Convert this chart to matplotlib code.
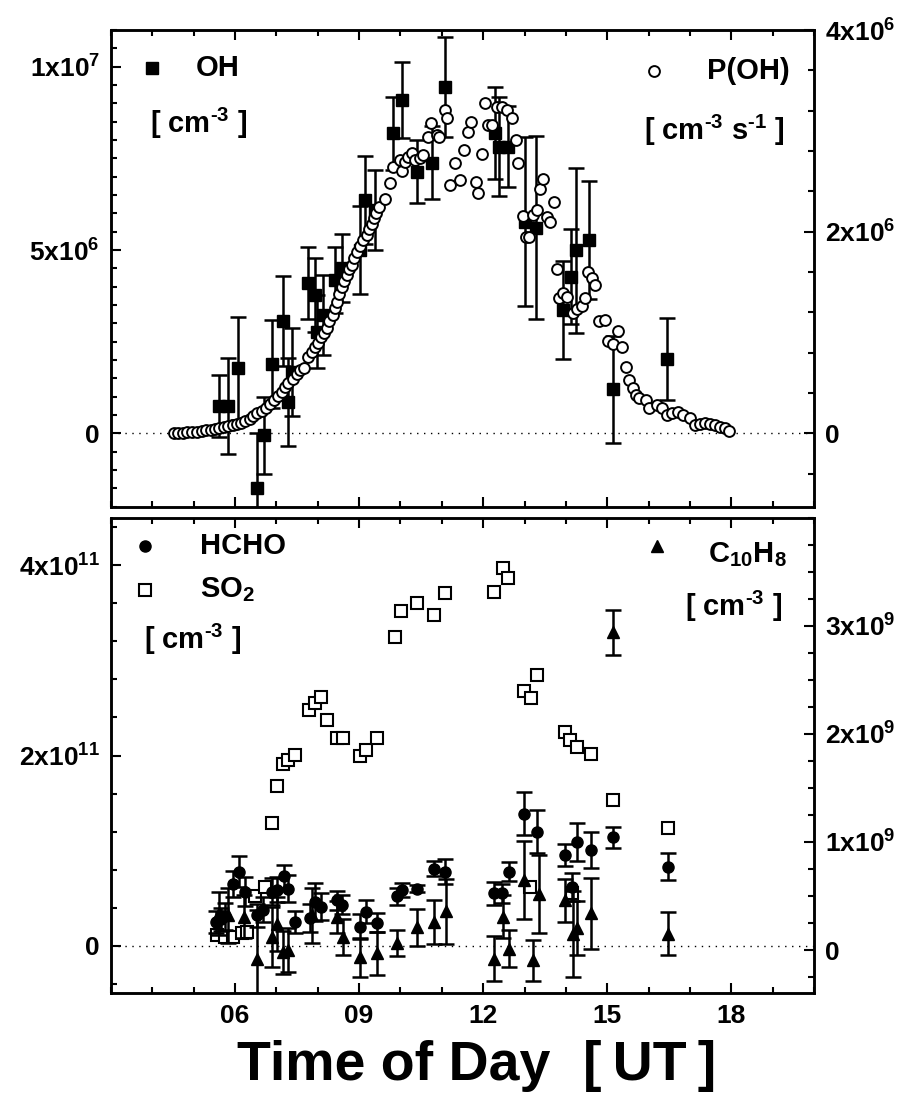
import matplotlib
matplotlib.use("Agg")
import matplotlib.pyplot as plt
from matplotlib.ticker import FixedLocator, MultipleLocator, FixedFormatter

plt.rcParams["font.family"] = ["Liberation Sans", "DejaVu Sans"]
plt.rcParams["font.weight"] = "bold"
plt.rcParams["mathtext.fontset"] = "custom"
plt.rcParams["mathtext.rm"] = "Liberation Sans:bold"
plt.rcParams["mathtext.it"] = "Liberation Sans:bold"
plt.rcParams["mathtext.bf"] = "Liberation Sans:bold"

# ---- top panel: OH (left, cm-3) and P(OH) (right, cm-3 s-1) ----
oh_t = [5.60, 5.84, 6.08, 6.54, 6.70, 6.89, 7.15, 7.29, 7.37, 7.77, 7.93, 7.99,
        8.12, 8.42, 8.58, 9.01, 9.14, 9.38, 9.83, 10.03, 10.39, 10.77, 11.08,
        12.29, 12.39, 12.61, 13.01, 13.28, 13.94, 14.12, 14.25, 14.57, 15.15, 16.44]
oh_val = [0.745, 0.745, 1.77, -1.5, -0.05, 1.89, 3.07, 0.86, 1.68, 4.11, 3.77, 2.77,
          3.23, 4.18, 4.5, 5.0, 6.36, 6.09, 8.18, 9.09, 7.14, 7.38, 9.45,
          8.2, 7.82, 7.82, 5.77, 5.61, 3.36, 4.27, 5.0, 5.27, 1.2, 2.02]  # 1e6 cm-3
oh_err = [0.85, 1.3, 1.4, 1.5, 1.05, 1.2, 1.22, 1.2, 1.2, 0.98, 1.0, 1.0,
          1.1, 0.9, 0.93, 1.2, 1.2, 1.1, 1.0, 1.03, 0.85, 1.0, 1.37,
          1.25, 1.35, 1.1, 2.3, 2.5, 1.34, 1.3, 2.25, 1.6, 1.45, 1.12]

poh_t = [4.52, 4.63, 4.73, 4.85, 4.95, 5.07, 5.19, 5.30, 5.41, 5.52, 5.62, 5.73,
         5.84, 5.94, 6.04, 6.14, 6.24, 6.35, 6.44, 6.54, 6.64, 6.74, 6.85, 6.94,
         7.05, 7.13, 7.21, 7.29, 7.39, 7.49, 7.57, 7.67, 7.77, 7.85, 7.93, 8.01,
         8.09, 8.15, 8.22, 8.28, 8.36, 8.42, 8.46, 8.52, 8.58, 8.64, 8.70, 8.76,
         8.84, 8.88, 8.96, 9.02, 9.10, 9.18, 9.25, 9.30, 9.37, 9.42, 9.49, 9.63,
         9.75, 9.83, 9.99, 10.03, 10.11, 10.19, 10.27, 10.35, 10.47, 10.55, 10.67,
         10.74, 10.89, 10.94, 11.08, 11.13, 11.20, 11.32, 11.44, 11.545, 11.625,
         11.71, 11.83, 11.88, 11.96, 12.04, 12.125, 12.21, 12.33, 12.45, 12.57,
         12.69, 12.79, 12.85, 12.96, 13.04, 13.12, 13.21, 13.29, 13.375, 13.455,
         13.54, 13.62, 13.71, 13.78, 13.84, 13.94, 14.02, 14.18, 14.26, 14.38,
         14.46, 14.54, 14.62, 14.70, 14.79, 14.95, 15.03, 15.15, 15.27, 15.35,
         15.455, 15.535, 15.615, 15.70, 15.78, 15.94, 16.02, 16.20, 16.32, 16.44,
         16.56, 16.72, 16.84, 17.00, 17.12, 17.245, 17.365, 17.49, 17.61, 17.73,
         17.85, 17.95]
poh_val = [0.007, 0.007, 0.007, 0.01, 0.013, 0.017, 0.023, 0.03, 0.036, 0.043, 0.05,
           0.06, 0.069, 0.079, 0.089, 0.102, 0.122, 0.146, 0.172, 0.198, 0.225,
           0.251, 0.291, 0.331, 0.370, 0.413, 0.456, 0.496, 0.536, 0.589, 0.628,
           0.648, 0.754, 0.810, 0.860, 0.899, 0.952, 0.999, 1.042, 1.118, 1.174,
           1.240, 1.306, 1.382, 1.455, 1.515, 1.571, 1.627, 1.670, 1.736, 1.802,
           1.858, 1.918, 1.968, 2.024, 2.077, 2.133, 2.189, 2.242, 2.321, 2.487,
           2.646, 2.712, 2.606, 2.696, 2.745, 2.778, 2.712, 2.728, 2.761, 2.943,
           3.075, 2.960, 2.944, 3.208, 3.125, 2.464, 2.679, 2.513, 2.808, 2.993,
           3.091, 2.497, 2.381, 2.771, 3.280, 3.059, 3.059, 3.241, 3.241, 3.208,
           3.125, 2.910, 2.685, 2.156, 1.944, 1.951, 2.163, 2.216, 2.421, 2.520,
           2.150, 2.100, 2.298, 1.627, 1.339, 1.389, 1.356, 1.190, 1.230, 1.263,
           1.339, 1.604, 1.538, 1.471, 1.118, 1.124, 0.919, 0.886, 1.019, 0.860,
           0.655, 0.529, 0.446, 0.380, 0.347, 0.331, 0.248, 0.281, 0.248, 0.182,
           0.198, 0.215, 0.182, 0.149, 0.083, 0.093, 0.099, 0.093, 0.083, 0.066,
           0.050, 0.026]  # 1e6 cm-3 s-1

# ---- bottom panel: HCHO, SO2 (left, cm-3) and C10H8 (right, cm-3) ----
hcho_t = [5.55, 5.65, 5.76, 5.96, 6.10, 6.24, 6.52, 6.68, 6.89, 7.02, 7.18, 7.29,
          7.45, 7.81, 7.93, 8.09, 8.46, 8.58, 9.02, 9.16, 9.43, 9.91, 10.03, 10.39,
          10.80, 11.08, 12.25, 12.45, 12.63, 12.99, 13.31, 13.98, 14.14, 14.26,
          14.60, 15.15, 16.48]
hcho_val = [0.25, 0.28, 0.31, 0.65, 0.78, 0.57, 0.32, 0.38, 0.57, 0.59, 0.73, 0.60,
            0.25, 0.29, 0.46, 0.41, 0.48, 0.43, 0.20, 0.36, 0.24, 0.52, 0.585, 0.60,
            0.81, 0.78, 0.55, 0.55, 0.78, 1.39, 1.20, 0.955, 0.62, 1.095,
            1.01, 1.14, 0.83]  # 1e11 cm-3
hcho_err = [0.12, 0.12, 0.14, 0.14, 0.16, 0.15, 0.12, 0.13, 0.14, 0.13, 0.12, 0.14,
            0.12, 0.15, 0.2, 0.14, 0.1, 0.1, 0.13, 0.12, 0.1, 0.09, 0.07, 0.04,
            0.08, 0.13, 0.12, 0.1, 0.1, 0.23, 0.23, 0.12, 0.15, 0.2,
            0.19, 0.11, 0.14]

so2_t = [5.56, 5.76, 5.96, 6.16, 6.28, 6.48, 6.72, 6.89, 7.02, 7.15, 7.29, 7.45,
         7.80, 7.93, 8.07, 8.22, 8.46, 8.60, 9.02, 9.16, 9.43, 9.87, 10.01, 10.41,
         10.80, 11.08, 12.25, 12.49, 12.61, 12.99, 13.13, 13.16, 13.31, 13.98,
         14.10, 14.14, 14.26, 14.60, 15.15, 16.48]
so2_val = [0.11, 0.095, 0.095, 0.13, 0.147, 0.52, 0.62, 1.295, 1.684, 1.912, 1.954,
           2.007, 2.48, 2.55, 2.62, 2.37, 2.18, 2.18, 2.0, 2.06, 2.18, 3.25, 3.52,
           3.60, 3.48, 3.71, 3.72, 3.97, 3.87, 2.68, 0.62, 2.60, 2.85, 2.25,
           2.16, 0.55, 2.09, 2.02, 1.53, 1.235]  # 1e11 cm-3

c10_t = [5.60, 5.84, 6.21, 6.52, 6.89, 7.02, 7.15, 7.29, 7.85, 8.46, 8.62, 9.02,
         9.43, 9.91, 10.41, 10.80, 11.09, 12.25, 12.49, 12.63, 12.99, 13.21, 13.36,
         13.98, 14.16, 14.28, 14.60, 15.15, 16.48]
c10_val = [0.34, 0.32, 0.31, -0.08, 0.12, 0.245, -0.02, 0.0, 0.32, 0.306, 0.12,
           -0.065, -0.03, 0.066, 0.21, 0.26, 0.36, -0.08, 0.31, 0.014, 0.65, -0.094,
           0.52, 0.46, 0.15, 0.2, 0.34, 2.94, 0.15]  # 1e9 cm-3
c10_err = [0.2, 0.25, 0.2, 0.45, 0.28, 0.25, 0.2, 0.2, 0.25, 0.15, 0.17, 0.18,
           0.2, 0.12, 0.17, 0.2, 0.3, 0.21, 0.2, 0.17, 0.36, 0.19, 0.36,
           0.2, 0.4, 0.25, 0.33, 0.21, 0.2]

hour_ticks = [6, 9, 12, 15, 18]
hour_labels = ["06", "09", "12", "15", "18"]

fig = plt.figure(figsize=(9.09, 11.09), dpi=100)
ax1 = fig.add_axes([0.1221, 0.5431, 0.7734, 0.4298])
ax2 = fig.add_axes([0.1221, 0.1043, 0.7734, 0.4289])

tick_fs = 19
leg_fs = 21
err_kw = dict(ecolor="black", elinewidth=1.8, capsize=5.5, capthick=1.8)
cm3 = r"[ cm$^{\text{-3}}$ ]"


def style(ax, right=False):
    for s in ax.spines.values():
        s.set_linewidth(1.8)
    ax.tick_params(which="both", direction="in", width=1.5, labelsize=tick_fs)
    ax.tick_params(which="major", length=7)
    ax.tick_params(which="minor", length=4)
    if right:
        ax.tick_params(which="both", left=False, right=True, labelleft=False,
                       labelright=True, top=False, bottom=False, pad=8)
    else:
        ax.tick_params(which="both", top=True, bottom=True, right=False, pad=8)


for ax in (ax1, ax2):
    ax.set_xlim(3, 20)
    ax.xaxis.set_major_locator(FixedLocator(hour_ticks))
    ax.xaxis.set_minor_locator(MultipleLocator(1))
    ax.axhline(0, color="black", linestyle=(0, (1, 4)), linewidth=1.0, zorder=0)
    style(ax)

ax1.set_xticklabels([])
ax2.xaxis.set_major_formatter(FixedFormatter(hour_labels))

# top panel
ax1.set_ylim(-2e6, 1.1e7)
ax1.yaxis.set_major_locator(FixedLocator([0, 5e6, 1e7]))
ax1.yaxis.set_major_formatter(FixedFormatter(["0", r"$5x10^{6}$", r"$1x10^{7}$"]))
ax1.yaxis.set_minor_locator(MultipleLocator(5e5))
ax1.errorbar(oh_t, [v * 1e6 for v in oh_val], yerr=[e * 1e6 for e in oh_err],
             fmt="s", color="black", markersize=9, **err_kw)

ax1r = ax1.twinx()
ax1r.set_ylim(-2e6 / 1.1e7 * 4e6, 4e6)
ax1r.yaxis.set_major_locator(FixedLocator([0, 2e6, 4e6]))
ax1r.yaxis.set_major_formatter(FixedFormatter(["0", r"$2x10^{6}$", r"$4x10^{6}$"]))
ax1r.yaxis.set_minor_locator(MultipleLocator(4e5))
style(ax1r, right=True)
ax1r.plot(poh_t, [v * 1e6 for v in poh_val], "o", markersize=7.8,
          markerfacecolor="white", markeredgecolor="black", markeredgewidth=1.4)

# bottom panel
ax2.set_ylim(-0.5e11, 4.5e11)
ax2.yaxis.set_major_locator(FixedLocator([0, 2e11, 4e11]))
ax2.yaxis.set_major_formatter(FixedFormatter(["0", r"$2x10^{11}$", r"$4x10^{11}$"]))
ax2.yaxis.set_minor_locator(MultipleLocator(4e10))
ax2.plot(so2_t, [v * 1e11 for v in so2_val], "s", markersize=8.5,
         markerfacecolor="white", markeredgecolor="black", markeredgewidth=1.5)
ax2.errorbar(hcho_t, [v * 1e11 for v in hcho_val], yerr=[e * 1e11 for e in hcho_err],
             fmt="o", color="black", markersize=8, **err_kw)

ax2r = ax2.twinx()
ax2r.set_ylim(-0.4e9, 4.0e9)
ax2r.yaxis.set_major_locator(FixedLocator([0, 1e9, 2e9, 3e9]))
ax2r.yaxis.set_major_formatter(FixedFormatter(["0", r"$1x10^{9}$", r"$2x10^{9}$", r"$3x10^{9}$"]))
ax2r.yaxis.set_minor_locator(MultipleLocator(2.5e8))
style(ax2r, right=True)
ax2r.errorbar(c10_t, [v * 1e9 for v in c10_val], yerr=[e * 1e9 for e in c10_err],
              fmt="^", color="black", markersize=9, **err_kw)

# legend entries as text
ax1.plot([3.98], [9.96e6], "s", color="black", markersize=9)
ax1.text(5.05, 9.96e6, "OH", fontsize=leg_fs, va="center")
ax1.text(3.95, 8.45e6, cm3, fontsize=leg_fs, va="center")
ax1r.plot([16.13], [3.59e6], "o", markersize=7.8, markerfacecolor="white",
          markeredgecolor="black", markeredgewidth=1.4)
ax1.text(19.42, 9.88e6, "P(OH)", fontsize=leg_fs, va="center", ha="right")
ax1.text(19.3, 8.27e6, r"[ cm$^{\text{-3}}$ s$^{\text{-1}}$ ]", fontsize=leg_fs,
         va="center", ha="right")

ax2.plot([3.82], [4.2e11], "o", color="black", markersize=8)
ax2.text(5.15, 4.2e11, "HCHO", fontsize=leg_fs, va="center")
ax2.plot([3.82], [3.74e11], "s", markersize=8.5, markerfacecolor="white",
         markeredgecolor="black", markeredgewidth=1.5)
ax2.text(5.15, 3.74e11, r"SO$_{2}$", fontsize=leg_fs, va="center")
ax2.text(3.8, 3.22e11, cm3, fontsize=leg_fs, va="center")
ax2r.plot([16.2], [3.735e9], "^", color="black", markersize=9)
ax2.text(19.35, 4.11e11, r"C$_{10}$H$_{8}$", fontsize=leg_fs, va="center", ha="right")
ax2.text(19.23, 3.565e11, cm3, fontsize=leg_fs, va="center", ha="right")

title_y = (1109 - 1080) / 1109
fig.text(237 / 909, title_y, "Time of Day", fontsize=40, fontweight="bold",
         ha="left", va="baseline")
fig.text(716 / 909, title_y, "[\u2009UT\u2009]", fontsize=40, fontweight="bold",
         ha="right", va="baseline")

fig.savefig("out.png", dpi=100)
